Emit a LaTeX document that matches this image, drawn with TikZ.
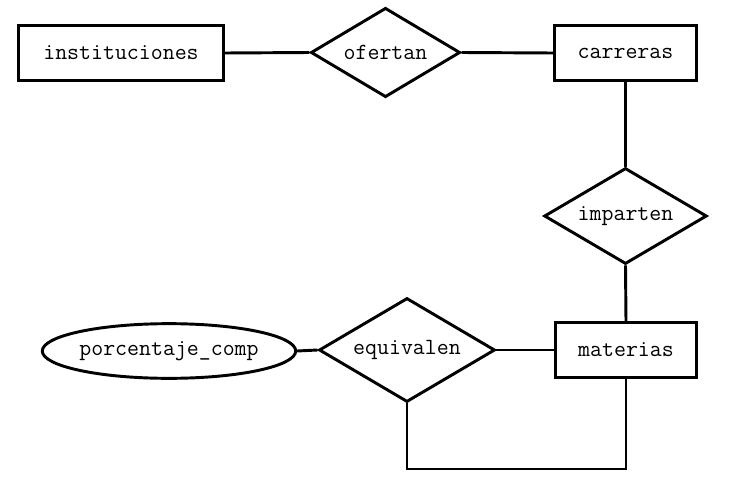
\documentclass[tikz,border=0pt]{standalone}
\usepackage{fontspec}
\usetikzlibrary{shapes.geometric}
\begin{document}
\begin{tikzpicture}[x=0.75pt,y=-0.75pt,
  every node/.style={font=\ttfamily\fontsize{17.4}{20}\selectfont, line width=2.2pt, inner sep=0pt},
  entity/.style={draw, rectangle, minimum width=106pt, minimum height=41pt},
  rel/.style={draw, diamond, shape aspect=1.68},
  attr/.style={draw, ellipse},
  conn/.style={line width=2.2pt}]
\useasboundingbox (0,0) rectangle (736,489);
\node[entity, minimum width=154pt] (inst) at (121,53) {instituciones};
\node[rel, minimum width=112pt, minimum height=67pt] (ofe) at (385.5,52.5) {ofertan};
\node[entity] (car) at (625.5,53) {carreras};
\node[rel, minimum width=122pt, minimum height=72pt] (imp) at (625.5,216) {imparten};
\node[entity] (mat) at (626,350) {materias};
\node[rel, minimum width=132pt, minimum height=78pt] (equ) at (407,350) {equivalen};
\node[attr, minimum width=188pt, minimum height=41pt] (por) at (169,351) {porcentaje\_comp};
\coordinate (loop) at (500,469);
\draw[conn] (inst.east) -- (ofe.west);
\draw[conn] (ofe.east) -- (car.west);
\draw[conn] (car.south) -- (imp.north);
\draw[conn] (imp.south) -- (mat.north);
\draw[conn] (por.east) -- (equ.west);
\draw[conn] (equ.east) -- (mat.west);
\draw[conn] (equ.south) |- (loop) -| (mat.south);
\end{tikzpicture}
\end{document}
